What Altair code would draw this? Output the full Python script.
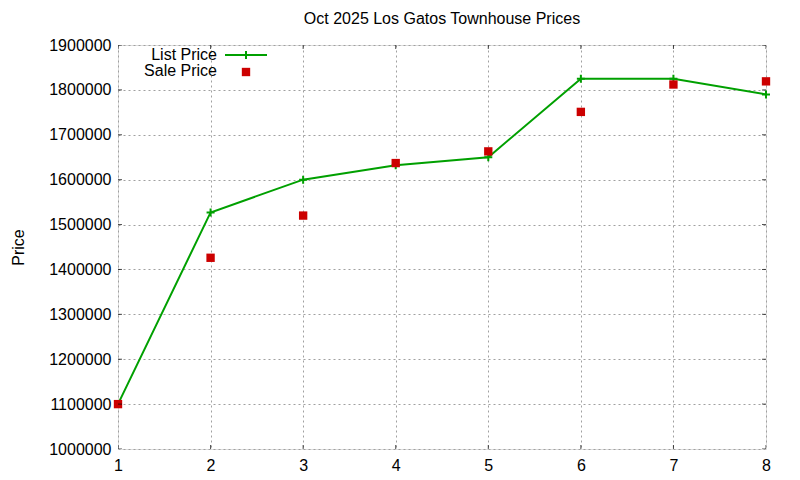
import altair as alt
import pandas as pd

months = [1, 2, 3, 4, 5, 6, 7, 8]
list_price = [1100000, 1527000, 1600000, 1632000, 1650000, 1825000, 1825000, 1790000]
sale_price = [1100000, 1426000, 1520000, 1637000, 1663000, 1751000, 1812000, 1819000]

x_ticks = [1, 2, 3, 4, 5, 6, 7, 8]
y_ticks = [1000000, 1100000, 1200000, 1300000, 1400000, 1500000, 1600000, 1700000, 1800000, 1900000]

W, H = 648, 404
FONT = "Liberation Sans"
GREEN = "#00a000"
RED = "#cc0000"
PLUS = "M-1,0H1M0,-1V1"

df = pd.DataFrame({"x": months, "list": list_price, "sale": sale_price})

xs = alt.Scale(domain=[1, 8], nice=False)
ys = alt.Scale(domain=[1000000, 1900000], nice=False)

xax = alt.Axis(values=x_ticks, format="d", title=None, grid=True, ticks=False,
               domain=False, labelPadding=8, labelFontSize=16, labelFont=FONT,
               labelColor="black", gridColor="#a0a0a0", gridDash=[2, 3],
               labelFlush=False, labelOverlap=False)
yax = alt.Axis(values=y_ticks, format="d", title="Price", grid=True, ticks=False,
               domain=False, labelPadding=7, labelFontSize=16, labelFont=FONT,
               labelColor="black", gridColor="#a0a0a0", gridDash=[2, 3],
               labelFlush=False, labelOverlap=False,
               titleFont=FONT, titleFontSize=16, titleFontWeight="normal",
               titleColor="black", titleX=-100, titleY=H / 2, titleAngle=-90,
               titleAlign="center", titleBaseline="middle")

base = alt.Chart(df)

line = base.mark_line(color=GREEN, strokeWidth=2).encode(
    x=alt.X("x:Q", scale=xs, axis=xax),
    y=alt.Y("list:Q", scale=ys, axis=yax),
)
plus = base.mark_point(shape=PLUS, filled=False, color=GREEN, strokeWidth=2,
                       size=64, opacity=1).encode(
    x=alt.X("x:Q", scale=xs), y=alt.Y("list:Q", scale=ys))
sale = base.mark_point(shape="square", filled=True, color=RED, size=70,
                       opacity=1).encode(
    x=alt.X("x:Q", scale=xs), y=alt.Y("sale:Q", scale=ys))

# inward ticks on all four sides
xt = pd.DataFrame({"t": x_ticks})
yt = pd.DataFrame({"t": y_ticks})
xtick_b = alt.Chart(xt).mark_tick(color="black", size=8, thickness=1, clip=True).encode(
    x=alt.X("t:Q", scale=xs), y=alt.value(H))
xtick_t = alt.Chart(xt).mark_tick(color="black", size=8, thickness=1, clip=True).encode(
    x=alt.X("t:Q", scale=xs), y=alt.value(0))
ytick_l = alt.Chart(yt).mark_tick(color="black", size=8, thickness=1, clip=True,
                                  orient="horizontal").encode(
    y=alt.Y("t:Q", scale=ys), x=alt.value(0))
ytick_r = alt.Chart(yt).mark_tick(color="black", size=8, thickness=1, clip=True,
                                  orient="horizontal").encode(
    y=alt.Y("t:Q", scale=ys), x=alt.value(W))

# key in the top left corner (one row, so each item is drawn once)
key = alt.Chart(pd.DataFrame({"k": [0]}))
key_style = dict(align="right", baseline="middle", font=FONT, fontSize=16, color="black")
key_list = key.mark_text(text="List Price", **key_style).encode(
    x=alt.value(99), y=alt.value(10))
key_sale = key.mark_text(text="Sale Price", **key_style).encode(
    x=alt.value(99), y=alt.value(26))
key_line = key.mark_rule(color=GREEN, strokeWidth=2).encode(
    x=alt.value(107), x2=alt.value(149), y=alt.value(10))
key_plus = key.mark_point(shape=PLUS, filled=False, color=GREEN, strokeWidth=2,
                          size=64, opacity=1).encode(x=alt.value(128), y=alt.value(10))
key_sq = key.mark_point(shape="square", filled=True, color=RED, size=70,
                        opacity=1).encode(x=alt.value(128), y=alt.value(27))

chart = alt.layer(
    line, plus, sale, xtick_b, xtick_t, ytick_l, ytick_r,
    key_list, key_sale, key_line, key_plus, key_sq,
).properties(
    width=W, height=H,
    title=alt.Title("Oct 2025 Los Gatos Townhouse Prices", font=FONT, fontSize=16,
                    fontWeight="normal", color="black", offset=10),
    autosize=alt.AutoSizeParams(type="none"),
    padding={"left": 110, "top": 37, "right": 26, "bottom": 23},
).configure_view(stroke="black", strokeWidth=1.5).configure(background="white")

chart.save("out.html", embed_options={"renderer": "svg", "actions": False})
